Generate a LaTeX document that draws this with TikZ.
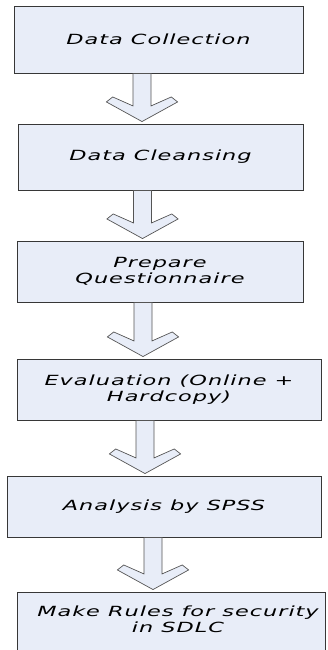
\documentclass[tikz,border=0pt]{standalone}
\usepackage{fontspec}
\newfontfamily\boxfont{DejaVu Sans}[FakeStretch=1.6,LetterSpace=7]
\usetikzlibrary{calc}
\definecolor{boxfill}{RGB}{232,237,248}
\definecolor{boxline}{RGB}{55,55,55}
\definecolor{arrline}{RGB}{85,85,85}
\tikzset{
  flowbox/.style={draw=boxline, line width=0.9pt, fill=boxfill, inner sep=0pt,
    font=\boxfont\itshape\fontsize{14}{16}\selectfont, align=center},
  flowtext/.style={inner sep=0pt, font=\boxfont\itshape\fontsize{14}{16}\selectfont, align=center},
  arrowst/.style={draw=arrline, line width=0.7pt, fill=boxfill, line join=miter}
}
\newcommand{\blockarrow}[3]{%
  \draw[arrowst] let \p1=(#1 |- #2.south), \p2=(#1 |- #3.north) in
    (\x1-9pt,\y1) -- (\x1-9pt,\y2+17.6pt) -- (\x1-29.3pt,\y2+26.6pt) --
    (\x1-35.6pt,\y2+21.6pt) -- (\x2,\y2+2pt) -- (\x1+35.6pt,\y2+21.6pt) --
    (\x1+29.3pt,\y2+26.6pt) -- (\x1+9pt,\y2+17.6pt) -- (\x1+9pt,\y1) -- cycle;}
\begin{document}
\begin{tikzpicture}[x=1pt,y=-1pt]
\useasboundingbox (0,0) rectangle (327,650);
\clip (0,0) rectangle (327,650);
\node[flowbox, minimum width=289pt, minimum height=67pt] (b1) at (158.5,39.5) {Data Collection};
\node[flowbox, minimum width=285pt, minimum height=66pt] (b2) at (160.5,157) {Data Cleansing};
\node[flowbox, minimum width=286pt, minimum height=61pt] (b3) at (160,271.5) {Prepare\\Questionnaire};
\node[flowbox, minimum width=304pt, minimum height=61pt] (b4) at (169,389.5) {Evaluation (Online +\\Hardcopy)};
\node[flowbox, minimum width=314pt, minimum height=61pt] (b5) at (164,506.5) {Analysis by SPSS};
\node[flowbox, minimum width=308pt, minimum height=70pt] (b6) at (171,627) {};
\node[flowtext] (t6) at (178,619) {Make Rules for security\\in SDLC};
\coordinate (x1) at (142,0);
\coordinate (x2) at (142.5,0);
\coordinate (x3) at (143,0);
\coordinate (x4) at (145,0);
\coordinate (x5) at (153,0);
\blockarrow{x1}{b1}{b2}
\blockarrow{x2}{b2}{b3}
\blockarrow{x3}{b3}{b4}
\blockarrow{x4}{b4}{b5}
\blockarrow{x5}{b5}{b6}
\end{tikzpicture}
\end{document}
